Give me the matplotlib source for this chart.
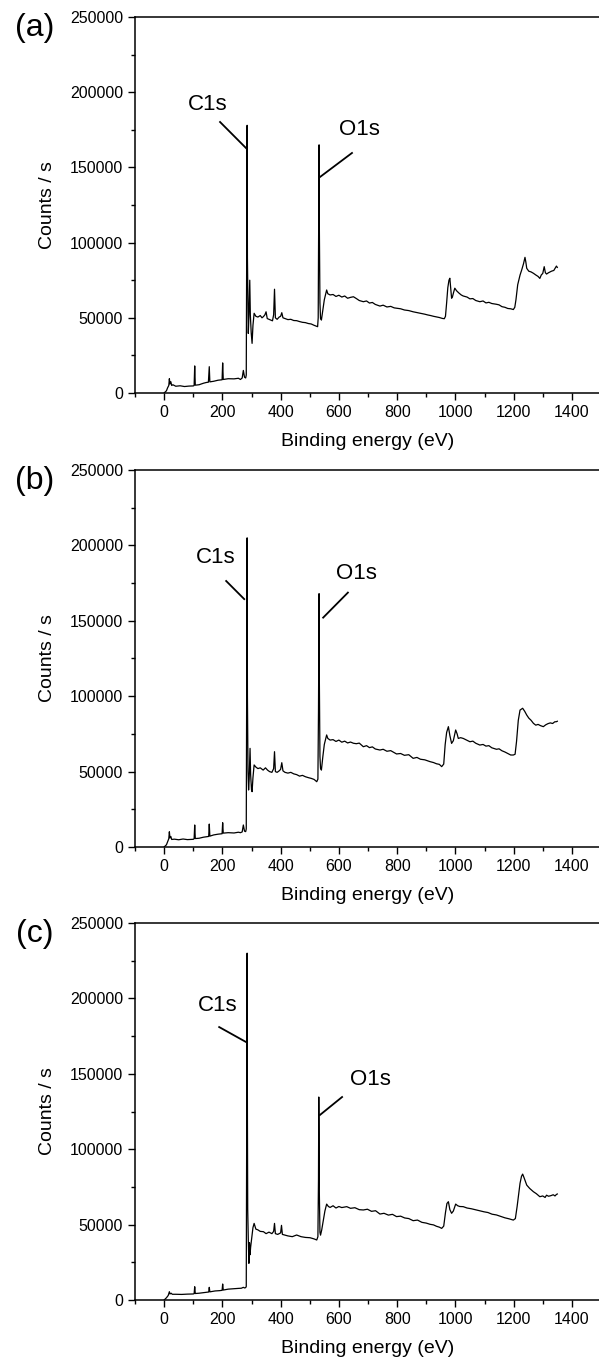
import matplotlib
matplotlib.use("Agg")
import matplotlib.pyplot as plt
import matplotlib.ticker as ticker

plt.rcParams['font.family'] = ['Liberation Sans', 'DejaVu Sans']

# ---- survey spectra: (binding energy eV, counts/s) ----
spectrum_a = [
    (0, 0), (8, 1500), (12, 3500), (16, 5000), (18, 9500), (20, 6000), (23, 7500), (26, 5000),
    (30, 5500), (40, 4500), (55, 4800), (70, 4300), (85, 4600), (100, 4700), (103, 5000),
    (105, 18000), (107, 5200), (120, 5500), (135, 6500), (145, 7000), (152, 7200), (155, 17500),
    (157, 7400), (170, 7800), (185, 8500), (199, 8800), (201, 20000), (203, 9000), (220, 9500),
    (240, 9400), (255, 9800), (262, 9000), (268, 10000), (272, 15000), (276, 10500), (280, 10000),
    (282, 12000), (283, 62000), (284, 120000), (285, 178000), (286, 90000), (288, 55000),
    (289, 39600), (291, 50000), (294, 75000), (296, 52000), (299, 40000), (302, 33000),
    (305, 45000), (309, 53000), (315, 51000), (322, 50500), (330, 51500), (336, 50000),
    (341, 50800), (346, 52000), (350, 54000), (354, 49500), (360, 49000), (366, 48500),
    (372, 48000), (376, 52000), (379, 69000), (382, 50000), (388, 49000), (395, 50500),
    (400, 51000), (404, 53400), (408, 50000), (415, 49500), (425, 48800), (435, 49000),
    (445, 48200), (455, 48100), (465, 47500), (475, 47000), (485, 46800), (495, 46200),
    (505, 45900), (515, 45000), (522, 44500), (527, 44100), (529, 50000), (530, 90000),
    (531, 130000), (532, 165000), (533, 110000), (534, 80000), (535, 60000), (537, 49600),
    (540, 48500), (545, 55000), (550, 62000), (555, 66000), (558, 68500), (562, 66000),
    (570, 65200), (580, 65500), (590, 64200), (600, 65000), (610, 63800), (620, 64500),
    (630, 63000), (640, 63600), (650, 64000), (660, 62800), (670, 61500), (684, 60700),
    (695, 61200), (705, 59800), (715, 60200), (725, 58900), (741, 57800), (752, 58400),
    (765, 57200), (778, 57600), (790, 56600), (800, 56300), (812, 56000), (825, 55200),
    (840, 54800), (855, 54000), (868, 53500), (880, 53000), (895, 52400), (905, 51900),
    (915, 51500), (925, 51000), (935, 50600), (945, 50200), (955, 49600), (962, 49400),
    (966, 51000), (970, 60000), (974, 70000), (978, 75000), (981, 76300), (984, 70000),
    (987, 63000), (990, 64000), (994, 67000), (998, 69700), (1004, 68000), (1012, 66500),
    (1020, 65200), (1027, 64500), (1040, 63800), (1050, 62600), (1060, 62800), (1070, 61500),
    (1084, 60700), (1095, 61200), (1105, 59900), (1115, 60300), (1125, 59500), (1141, 59000),
    (1150, 58600), (1160, 57400), (1170, 57000), (1180, 56200), (1190, 56000), (1199, 55500),
    (1204, 57000), (1208, 62000), (1214, 72000), (1222, 78400), (1228, 82000), (1234, 86000),
    (1239, 90200), (1242, 87000), (1245, 82900), (1252, 81000), (1260, 80500), (1268, 79600),
    (1276, 78500), (1284, 77500), (1290, 76200), (1295, 78500), (1300, 79500), (1305, 84000),
    (1309, 80000), (1313, 79100), (1320, 80000), (1330, 81000), (1338, 81500), (1347, 84400),
    (1350, 83500),
]

spectrum_b = [
    (0, 0), (8, 1500), (12, 3500), (16, 5500), (18, 10100), (20, 6000), (23, 7000), (26, 5000),
    (35, 5200), (50, 4800), (65, 5300), (80, 4900), (100, 5100), (103, 5500), (105, 14600),
    (107, 5600), (120, 5800), (135, 6500), (145, 6800), (153, 7000), (155, 15200), (157, 7200),
    (170, 8000), (185, 8500), (199, 8800), (201, 16100), (203, 9200), (220, 9500), (240, 9300),
    (255, 9800), (262, 9500), (268, 10000), (272, 14600), (276, 10500), (280, 10200),
    (282, 12000), (283, 70000), (284, 140000), (285, 205000), (286, 100000), (288, 50000),
    (290, 37800), (292, 45000), (295, 65400), (297, 48000), (300, 38000), (302, 36700),
    (305, 46000), (309, 54400), (315, 53000), (322, 52000), (330, 52500), (340, 51000),
    (348, 52500), (355, 51000), (362, 50000), (370, 49500), (376, 52000), (379, 63200),
    (382, 50000), (388, 49500), (395, 50500), (400, 51500), (404, 55900), (408, 50500),
    (415, 49500), (425, 49000), (435, 49500), (445, 48500), (455, 48000), (465, 47000),
    (475, 47500), (485, 46600), (495, 46000), (505, 45500), (515, 44800), (524, 43300),
    (528, 45000), (530, 90000), (531, 130000), (532, 168000), (533, 110000), (534, 80000),
    (535, 60000), (537, 52200), (540, 51000), (545, 60000), (550, 68000), (555, 72000),
    (558, 74300), (562, 72000), (570, 70900), (580, 71200), (590, 70000), (600, 70900),
    (610, 69500), (620, 70200), (630, 69000), (640, 69600), (650, 68800), (660, 68500),
    (670, 68900), (684, 66500), (695, 67200), (705, 65900), (715, 66400), (725, 65000),
    (741, 64300), (752, 64800), (765, 63500), (778, 63900), (790, 62600), (798, 61700),
    (812, 62000), (825, 60800), (840, 61200), (855, 58800), (868, 59400), (880, 58200),
    (895, 57800), (913, 56600), (925, 56000), (935, 55200), (945, 54800), (953, 53300),
    (960, 55000), (965, 68000), (970, 76000), (976, 79800), (981, 74000), (987, 68700),
    (993, 70500), (1001, 77600), (1006, 75000), (1010, 72000), (1018, 72500), (1027, 72000),
    (1040, 70800), (1050, 69800), (1060, 70200), (1070, 68800), (1084, 67600), (1095, 68000),
    (1105, 66900), (1115, 67200), (1125, 65800), (1141, 64800), (1150, 65100), (1160, 63800),
    (1170, 63000), (1180, 62000), (1190, 61000), (1199, 61000), (1205, 61500), (1210, 70000),
    (1216, 84000), (1222, 90800), (1227, 91500), (1231, 92000), (1238, 90000), (1245, 87500),
    (1252, 85500), (1260, 84000), (1268, 82000), (1276, 80800), (1284, 81300), (1292, 80500),
    (1302, 79800), (1310, 81000), (1318, 81800), (1326, 82300), (1334, 81900), (1341, 83000),
    (1347, 83100), (1350, 83400),
]

spectrum_c = [
    (0, 0), (8, 1500), (14, 3000), (18, 5500), (20, 4000), (24, 4500), (28, 3800), (40, 3800),
    (60, 3700), (80, 3900), (100, 4000), (103, 4200), (105, 8800), (107, 4300), (120, 4500),
    (140, 5000), (153, 5300), (155, 8400), (157, 5400), (175, 6000), (190, 6200), (199, 6400),
    (201, 10600), (203, 6600), (220, 7200), (240, 7500), (255, 7700), (265, 7800), (272, 8400),
    (276, 8000), (280, 8200), (282, 9000), (283, 70000), (284, 150000), (285, 230000),
    (286, 120000), (287, 60000), (289, 40000), (291, 24300), (293, 38000), (295, 30000),
    (297, 35000), (300, 40000), (305, 48000), (309, 50800), (315, 47000), (322, 46500),
    (330, 45500), (341, 45300), (350, 44000), (360, 45000), (370, 44000), (376, 45500),
    (379, 50800), (382, 44000), (390, 43500), (400, 44500), (403, 49500), (406, 43500),
    (415, 43000), (425, 42500), (440, 42000), (455, 43100), (470, 42000), (485, 41500),
    (501, 41300), (515, 40500), (524, 39800), (528, 42000), (530, 80000), (531, 134600),
    (532, 110000), (533, 70000), (535, 45000), (537, 43000), (541, 46400), (546, 52000),
    (552, 59000), (558, 63600), (564, 62000), (570, 61400), (580, 62500), (590, 61000),
    (600, 62000), (610, 61300), (627, 61900), (640, 60800), (655, 61200), (670, 59900),
    (684, 59700), (698, 60200), (712, 58800), (726, 59200), (741, 57000), (755, 57500),
    (770, 56300), (784, 56800), (798, 55300), (812, 55600), (826, 54400), (840, 54000),
    (855, 52600), (870, 53000), (885, 51500), (900, 51000), (913, 50200), (925, 49800),
    (935, 48900), (945, 48300), (953, 47500), (960, 49000), (966, 58000), (971, 64000),
    (976, 65200), (981, 60000), (987, 57500), (993, 59000), (1001, 63600), (1008, 62500),
    (1015, 62000), (1027, 61900), (1040, 61000), (1055, 60500), (1070, 59800), (1084, 59200),
    (1098, 58500), (1112, 58000), (1126, 56900), (1141, 56400), (1155, 55500), (1170, 54500),
    (1185, 53800), (1199, 53000), (1206, 54000), (1212, 62000), (1217, 70000), (1222, 77400),
    (1227, 82000), (1231, 83500), (1236, 81000), (1245, 76200), (1255, 74000), (1268, 71800),
    (1278, 70500), (1290, 68500), (1300, 69000), (1308, 68000), (1313, 69500), (1320, 68800),
    (1328, 69200), (1336, 69800), (1342, 69000), (1347, 70000), (1350, 70300),
]

# peak labels: (text, text x, text y, leader start, leader end) in data units
labels_a = [("C1s", 151, 191500, (192, 180200), (281, 162900)),
            ("O1s", 669, 175500, (645, 159600), (535, 143600))]
labels_b = [("C1s", 178, 192300, (213, 176400), (275, 164400)),
            ("O1s", 662, 181300, (631, 168700), (546, 152100))]
labels_c = [("C1s", 185, 195600, (189, 181000), (281, 171100)),
            ("O1s", 707, 145900, (611, 134600), (535, 122700))]

panels = [("(a)", spectrum_a, labels_a, [0.22538, 0.71145, 0.77796, 0.27606]),
          ("(b)", spectrum_b, labels_b, [0.22538, 0.37812, 0.77796, 0.27680]),
          ("(c)", spectrum_c, labels_c, [0.22538, 0.04552, 0.77796, 0.27680])]

fig = plt.figure(figsize=(5.99, 13.62), dpi=100)

for tag, spectrum, labels, rect in panels:
    x = [p[0] for p in spectrum]
    y = [p[1] for p in spectrum]

    ax = fig.add_axes(rect)
    ax.plot(x, y, color="black", lw=0.9)

    for text, tx, ty, p0, p1 in labels:
        ax.text(tx, ty, text, fontsize=16, ha="center", va="center")
        ax.plot([p0[0], p1[0]], [p0[1], p1[1]], color="black", lw=1.3)

    ax.set_xlim(-100, 1500)
    ax.set_ylim(0, 250000)
    ax.xaxis.set_major_locator(ticker.MultipleLocator(200))
    ax.xaxis.set_minor_locator(ticker.MultipleLocator(100))
    ax.yaxis.set_major_locator(ticker.MultipleLocator(50000))
    ax.yaxis.set_minor_locator(ticker.MultipleLocator(25000))
    ax.tick_params(which="major", direction="out", length=5, width=1, labelsize=11.5, pad=3.5)
    ax.tick_params(which="minor", direction="out", length=3, width=1)
    ax.spines["right"].set_visible(False)
    for s in ("left", "bottom", "top"):
        ax.spines[s].set_linewidth(1.1)

    ax.set_xlabel("Binding energy (eV)", fontsize=14)
    ax.set_ylabel("Counts / s", fontsize=14)
    ax.xaxis.set_label_coords(0.5, -0.106)
    ax.yaxis.set_label_coords(-0.17, 0.5)

    ax.text(-0.2146, 0.971, tag, transform=ax.transAxes, fontsize=23,
            ha="center", va="center")

fig.savefig("out.png", dpi=100)
